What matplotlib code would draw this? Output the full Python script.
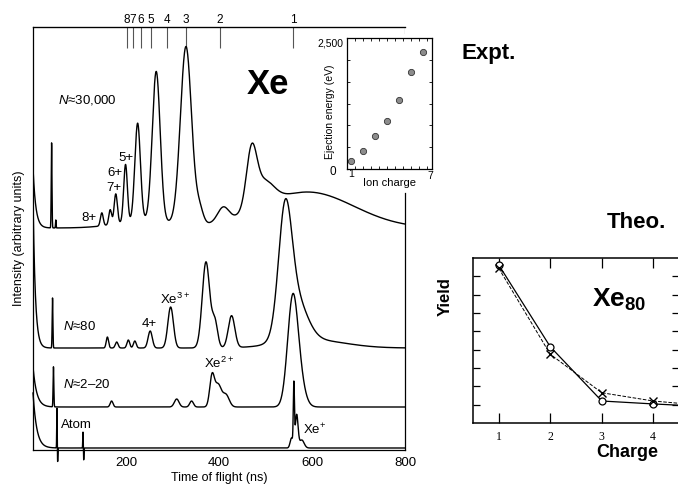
import numpy as np
import matplotlib
matplotlib.use("Agg")
from matplotlib import pyplot as plt
from matplotlib.ticker import MultipleLocator

plt.rcParams['font.family'] = ['Liberation Sans', 'DejaVu Sans']
plt.rcParams['mathtext.fontset'] = 'custom'
plt.rcParams['mathtext.rm'] = 'Liberation Sans'
plt.rcParams['mathtext.it'] = 'Liberation Sans:italic'
plt.rcParams['mathtext.bf'] = 'Liberation Sans:bold'

# --- main spectra: peaks as (centre ns, height, width ns)
# heights in the same arbitrary units as the baselines
base_30000 = 222
peaks_30000 = [(40, 85, 0.8), (49, 8, 0.6), (240, 7, 60),
               (148, 13, 3), (166, 15, 3), (178, 30, 3.5), (199, 58, 4),
               (225, 98, 6), (265, 150, 8.5), (329, 178, 12),
               (358, 15, 8), (409, 14, 12), (470, 54, 11), (495, 24, 22),
               (590, 36, 100)]
decay_30000 = (60, 6)

base_80 = 102
peaks_80 = [(42, 50, 0.8), (160, 11, 2.5), (180, 6, 3), (205, 8, 3),
            (219, 7, 3), (252, 17, 4.5), (296, 41, 6), (372, 86, 8),
            (391, 26, 6), (427, 32, 7), (542, 110, 14), (562, 45, 25),
            (600, 8, 70)]
decay_80 = (150, 5)

base_2_20 = 43
peaks_2_20 = [(44, 40, 0.8), (169, 6, 3), (309, 8, 5), (341, 6, 4),
              (385, 30, 5), (398, 22, 7), (415, 12, 7),
              (558, 100, 11), (572, 25, 12)]
decay_2_20 = (40, 8)

base_atom = 2
peaks_atom = [(51.5, 40, 0.5), (53, -14, 0.5), (107.5, 16, 0.5),
              (109, -12, 0.5), (561, 60, 1.2), (567, 33, 3.0),
              (556, 10, 3), (578, 8, 5)]
decay_atom = (55, 8)

trace_labels = [r'$N$≈30,000', r'$N$≈80', r'$N$≈2–20', 'Atom']

# top scale: arrival time of each charge state
charge_times = [202, 215, 232, 254, 288, 329, 402, 559]
charge_names = ['8', '7', '6', '5', '4', '3', '2', '1']

# inset: ejection energy vs ion charge
ion_charge = [1, 2, 3, 4, 5, 6, 7]
ejection_ev = [153, 350, 631, 924, 1320, 1850, 2232]

# theory panel: yield vs charge (Xe80)
theo_charge = [1, 2, 3, 4, 5]
yield_circle = [8.62, 4.16, 1.20, 1.04, 0.90]
yield_cross = [8.44, 3.75, 1.65, 1.20, 0.95]


def build_trace(t, base, peaks, decay):
    y = np.full_like(t, float(base))
    for c, h, w in peaks:
        y += h * np.exp(-(t - c) ** 2 / (2 * w ** 2))
    amp, tau = decay
    y += amp * np.exp(-t / tau)
    return y


fig = plt.figure(figsize=(6.78, 4.87), dpi=100)

ax = fig.add_axes([33 / 678, 37 / 487, 372 / 678, 423 / 487])
t = np.arange(0, 800.01, 0.25)
traces = [(base_30000, peaks_30000, decay_30000),
          (base_80, peaks_80, decay_80),
          (base_2_20, peaks_2_20, decay_2_20),
          (base_atom, peaks_atom, decay_atom)]
for i, (b, p, d) in enumerate(traces):
    # the atom trace dips below the frame in the original
    ax.plot(t, build_trace(t, b, p, d), color='black', lw=1.0,
            clip_on=(i != 3))

ax.set_xlim(0, 800)
ax.set_ylim(0, 423)
ax.set_xticks([200, 400, 600, 800])
ax.tick_params(axis='x', length=0, pad=5, labelsize=9.5)
ax.set_yticks([])
ax.set_xlabel('Time of flight (ns)', fontsize=9, labelpad=2)
ax.set_ylabel('Intensity (arbitrary units)', fontsize=9, labelpad=6)
ax.spines['right'].set_bounds(0, 257)
ax.axvline(800, ymin=(423 - 6) / 423, ymax=1, color='black', lw=0.8)
for s in ax.spines.values():
    s.set_linewidth(0.9)

sec = ax.secondary_xaxis('top')
sec.set_xticks(charge_times, labels=charge_names)
sec.tick_params(direction='in', length=15, width=0.8, color='#555555',
                pad=1, labelsize=8.5)

txt = dict(fontsize=9.5, ha='left', va='center')
ax.text(54, 350, trace_labels[0], **txt)
ax.text(64.5, 123, trace_labels[1], **txt)
ax.text(64.5, 65, trace_labels[2], **txt)
ax.text(60, 25, trace_labels[3], **txt)
ax.text(183, 292, '5+', **txt)
ax.text(161, 277, '6+', **txt)
ax.text(157, 262, '7+', **txt)
ax.text(105, 232, '8+', **txt)
ax.text(273, 151, r'Xe$^{3+}$', **txt)
ax.text(234, 126, '4+', **txt)
ax.text(368, 87, r'Xe$^{2+}$', **txt)
ax.text(581, 20, r'Xe$^{+}$', **txt)
ax.text(505, 365, 'Xe', fontsize=25, fontweight='bold', ha='center',
        va='center')

# inset
axi = fig.add_axes([347 / 678, 318 / 487, 84.7 / 678, 130.7 / 487])
axi.plot(ion_charge, ejection_ev, 'o', ms=4.5, mfc='#8c8c8c', mec='#333333',
         mew=0.6)
axi.set_xlim(0.694, 7.69)
axi.set_ylim(0, 2500)
axi.set_xticks([])
axi.set_yticks([])
axi.xaxis.set_minor_locator(MultipleLocator(2 / 3))
axi.yaxis.set_minor_locator(MultipleLocator(2500 / 6))
axi.tick_params(which='minor', direction='in', length=2, width=0.6,
                top=True, right=True)
for s in axi.spines.values():
    s.set_linewidth(0.9)
small = dict(fontsize=7.5, transform=axi.transAxes)
axi.text(-0.04, 0.964, '2,500', ha='right', va='center', **small)
axi.text(-0.165, -0.023, '0', ha='center', va='center', fontsize=8.5,
         transform=axi.transAxes)
axi.text(0.012, -0.04, '1', ha='left', va='center', **small)
axi.text(0.98, -0.05, '7', ha='center', va='center', **small)
axi.text(0.496, -0.107, 'Ion charge', ha='center', va='center', fontsize=8,
         transform=axi.transAxes)
axi.text(-0.2, 0.436, 'Ejection energy (eV)', rotation=90, ha='center',
         va='center', **small)

fig.text(462 / 678, 1 - 53 / 487, 'Expt.', fontsize=16, fontweight='bold',
         ha='left', va='center')

# theory panel
ax2 = fig.add_axes([473 / 678, 64 / 487, 206 / 678, 165 / 487])
ax2.plot(theo_charge, yield_circle, '-o', color='black', lw=0.9, ms=5,
         mfc='white', mec='black', mew=0.9)
ax2.plot(theo_charge, yield_cross, '--x', color='black', lw=0.7, ms=6,
         mew=1.0)
ax2.set_xlim(0.5, 4.5)
ax2.set_ylim(0, 9)
ax2.set_xticks([1, 2, 3, 4])
ax2.set_yticks(range(1, 9))
ax2.tick_params(axis='x', direction='in', length=7, width=0.9, top=True,
                labelsize=8.5, pad=6)
ax2.tick_params(axis='y', direction='in', length=5, width=0.9, right=True,
                labelleft=False)
for lab in ax2.get_xticklabels():
    lab.set_fontfamily('Liberation Serif')
for s in ax2.spines.values():
    s.set_linewidth(1.1)
ax2.text(2.81, 6.7, r'$\mathbf{Xe_{80}}$', fontsize=19, ha='left',
         va='center')
ax2.set_xlabel('Charge', fontsize=13, fontweight='bold')
ax2.xaxis.set_label_coords(0.748, -0.13)
ax2.set_ylabel('Yield', fontsize=12, fontweight='bold')
ax2.yaxis.set_label_coords(-0.097, 0.764)

fig.text(607 / 678, 1 - 223 / 487, 'Theo.', fontsize=16, fontweight='bold',
         ha='left', va='center')

fig.savefig('out.png', dpi=100)
